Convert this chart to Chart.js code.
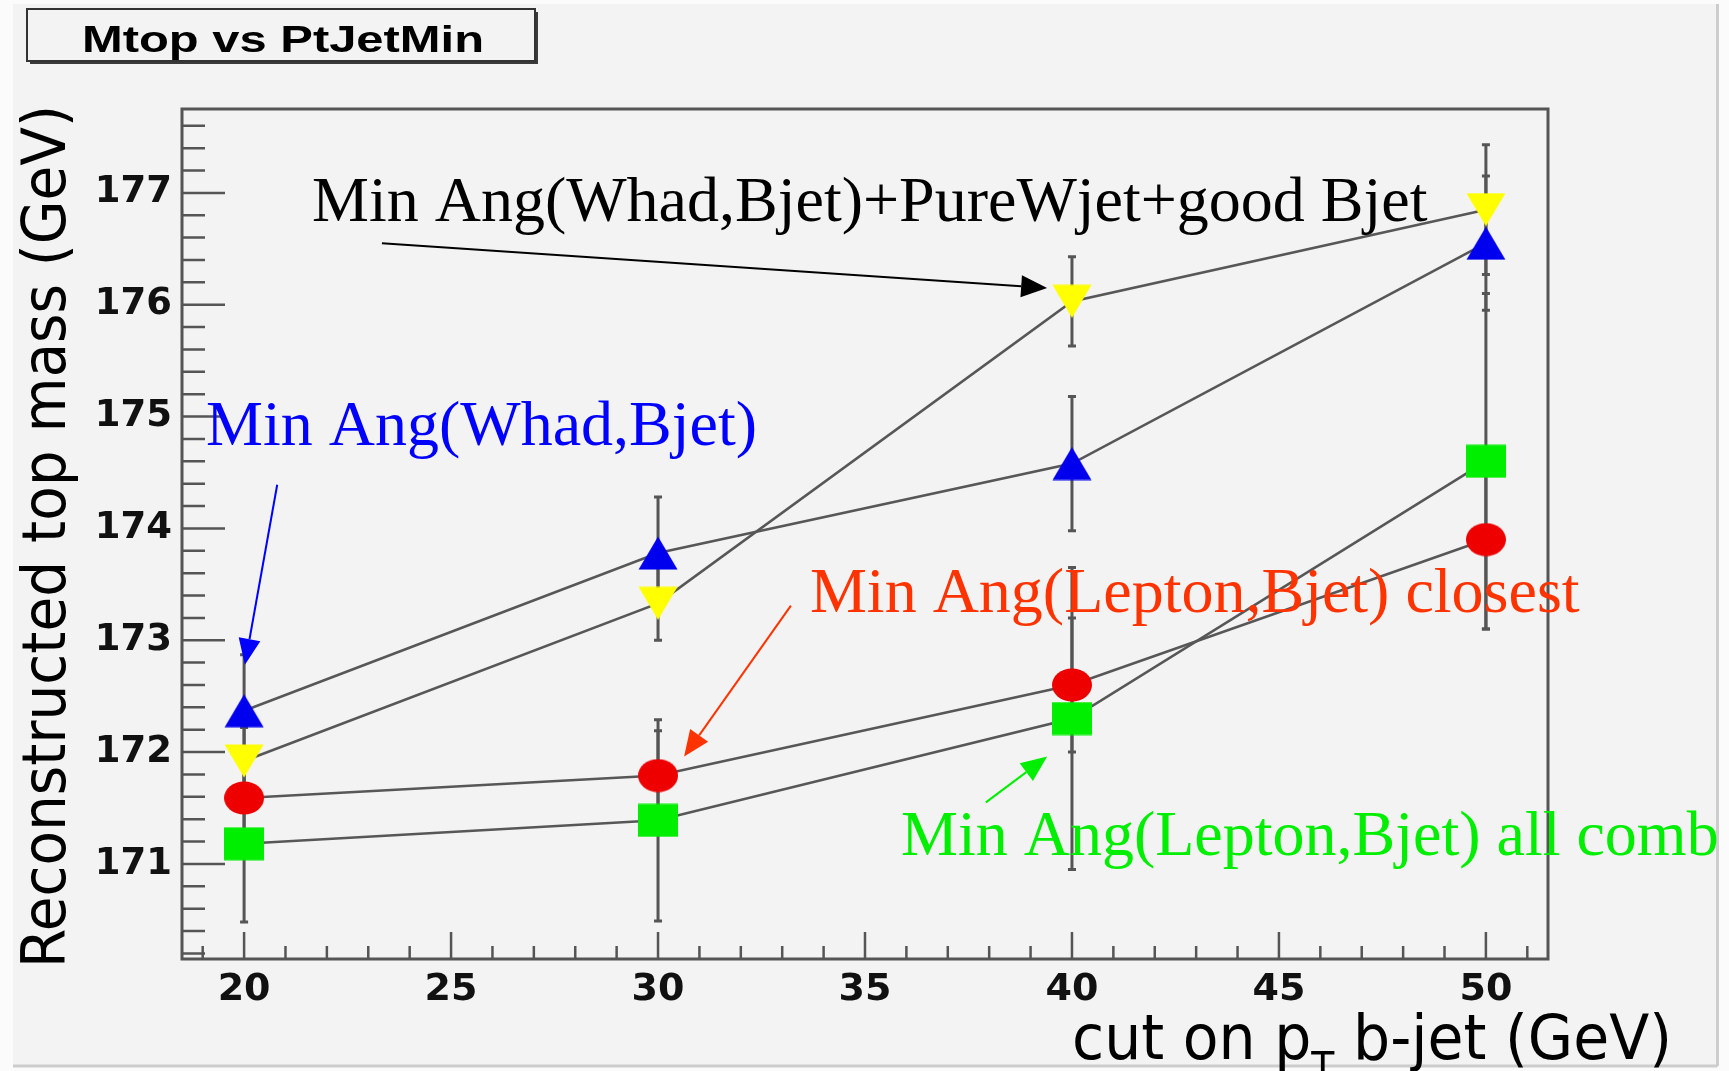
<!DOCTYPE html>
<html>
<head>
<meta charset="utf-8">
<title>Mtop vs PtJetMin</title>
<script src="https://cdn.jsdelivr.net/npm/chart.js"></script>
<style>
  html, body { margin: 0; padding: 0; background: #fbfbfb; overflow: hidden; }
  #graph { width: 1729px; height: 1071px; }
</style>
</head>
<body>
<div id="graph"></div>
<script>
// Coupure sur le pT du b-jet (GeV)
var xCuts = [20, 30, 40, 50];

// Masse du top reconstruite (GeV) et erreurs, par méthode
var whadBjet = [172.37, 173.78, 174.58, 176.55];
var whadBjetErr = [0.5, 0.5, 0.6, 0.6];
var pureWjet = [171.92, 173.33, 176.03, 176.85];
var pureWjetErr = [0.3, 0.33, 0.4, 0.58];
var lepClosest = [171.59, 171.79, 172.6, 173.9];
var lepClosestErr = [0.3, 0.4, 0.6, 0.8];
var lepAllComb = [171.18, 171.39, 172.3, 174.6];
var lepAllCombErr = [0.7, 0.9, 1.35, 1.5];

// Graduations
var xTickValues = [20, 25, 30, 35, 40, 45, 50];
var yTickValues = [171, 172, 173, 174, 175, 176, 177];

// Étiquettes et flèches (positions en unités des axes)
var notes = [
    { text: 'Min Ang(Whad,Bjet)+PureWjet+good Bjet', color: '#000000', x: 21.64, y: 176.75, from: [23.33, 176.55], to: [39.40, 176.15] },
    { text: 'Min Ang(Whad,Bjet)', color: '#0000ff', x: 19.08, y: 174.75, from: [20.80, 174.39], to: [20.02, 172.78] },
    { text: 'Min Ang(Lepton,Bjet) closest', color: '#ff3300', x: 33.67, y: 173.25, from: [33.21, 173.31], to: [30.63, 171.96] },
    { text: 'Min Ang(Lepton,Bjet) all comb', color: '#00ee00', x: 35.87, y: 171.08, from: [37.92, 171.55], to: [39.40, 171.96] }
];

var graphDiv = document.getElementById('graph');
graphDiv.innerHTML = '';
var canvas = document.createElement('canvas');
canvas.id = 'chartCanvas';
canvas.width = 1729;
canvas.height = 1071;
graphDiv.appendChild(canvas);

// Marqueurs façon ROOT (légèrement étirés en largeur)
function makeMarker(shape, color) {
    var c = document.createElement('canvas');
    c.width = 40;
    c.height = 34;
    var g = c.getContext('2d');
    g.fillStyle = color;
    g.beginPath();
    if (shape === 'up') {
        g.moveTo(20, 0.5); g.lineTo(39.5, 33.5); g.lineTo(0.5, 33.5);
    } else if (shape === 'down') {
        g.moveTo(0.5, 0.5); g.lineTo(39.5, 0.5); g.lineTo(20, 33.5);
    } else if (shape === 'ellipse') {
        g.ellipse(20, 17, 20, 16.5, 0, 0, 2 * Math.PI);
    } else {
        g.rect(0, 0.5, 40, 33);
    }
    g.closePath();
    g.fill();
    return c;
}

function serie(label, values, errors, marker) {
    return {
        label: label,
        data: xCuts.map(function (x, i) { return { x: x, y: values[i] }; }),
        errors: errors,
        borderColor: '#575757',
        borderWidth: 2.6,
        pointStyle: marker,
        pointRadius: 20,
        pointHoverRadius: 20,
        fill: false,
        tension: 0
    };
}

// Fond, barres d'erreur, cadre, titres et annotations
var rootStyle = {
    id: 'rootStyle',
    beforeDraw: function (chart) {
        var ctx = chart.ctx;
        ctx.save();
        ctx.fillStyle = '#fbfbfb';
        ctx.fillRect(0, 0, chart.width, chart.height);
        ctx.fillStyle = '#f3f3f3';
        ctx.fillRect(13, 4, 1704, 1061);
        ctx.strokeStyle = '#cdcdcd';
        ctx.lineWidth = 3;
        ctx.beginPath();
        ctx.moveTo(1717.5, 4); ctx.lineTo(1717.5, 1066);
        ctx.moveTo(13, 1066); ctx.lineTo(1717.5, 1066);
        ctx.stroke();
        ctx.restore();
    },
    beforeDatasetsDraw: function (chart) {
        var ctx = chart.ctx;
        var xs = chart.scales.x, ys = chart.scales.y;
        ctx.save();
        ctx.strokeStyle = '#555555';
        ctx.lineWidth = 3;
        chart.data.datasets.forEach(function (ds) {
            ds.data.forEach(function (p, i) {
                var px = xs.getPixelForValue(p.x);
                var top = ys.getPixelForValue(p.y + ds.errors[i]);
                var bot = ys.getPixelForValue(p.y - ds.errors[i]);
                ctx.beginPath();
                ctx.moveTo(px, top); ctx.lineTo(px, bot);
                ctx.moveTo(px - 4, top); ctx.lineTo(px + 4, top);
                ctx.moveTo(px - 4, bot); ctx.lineTo(px + 4, bot);
                ctx.stroke();
            });
        });
        ctx.restore();
    },
    afterDraw: function (chart) {
        var ctx = chart.ctx;
        var a = chart.chartArea;
        var xs = chart.scales.x, ys = chart.scales.y;
        ctx.save();

        // Cadre
        ctx.strokeStyle = '#555555';
        ctx.lineWidth = 3;
        ctx.strokeRect(a.left, a.top, a.right - a.left, a.bottom - a.top);

        // Graduations intérieures
        ctx.lineWidth = 2.5;
        ctx.beginPath();
        for (var k = Math.ceil(ys.min * 5); k <= Math.floor(ys.max * 5); k++) {
            var py = ys.getPixelForValue(k / 5);
            ctx.moveTo(a.left, py);
            ctx.lineTo(a.left + (k % 5 === 0 ? 43 : 23), py);
        }
        for (var j = Math.ceil(xs.min); j <= Math.floor(xs.max); j++) {
            var px = xs.getPixelForValue(j);
            ctx.moveTo(px, a.bottom);
            ctx.lineTo(px, a.bottom - (j % 5 === 0 ? 27 : 13));
        }
        ctx.stroke();

        // Boîte du titre
        ctx.fillStyle = '#3a3a3a';
        ctx.fillRect(30, 12, 508, 52);
        ctx.fillStyle = '#f3f3f3';
        ctx.fillRect(27, 9, 508, 52);
        ctx.strokeStyle = '#333333';
        ctx.lineWidth = 2;
        ctx.strokeRect(27, 9, 508, 52);
        ctx.fillStyle = '#000000';
        ctx.font = 'bold 36px "Liberation Sans", Arial, sans-serif';
        ctx.textBaseline = 'alphabetic';
        ctx.textAlign = 'left';
        var tw = ctx.measureText('Mtop vs PtJetMin').width;
        ctx.save();
        ctx.translate(82, 52);
        ctx.scale(402 / tw, 1);
        ctx.fillText('Mtop vs PtJetMin', 0, 0);
        ctx.restore();

        // Titre de l'axe Y
        ctx.font = '60px "DejaVu Sans", sans-serif';
        var yt = 'Reconstructed top mass (GeV)';
        var yw = ctx.measureText(yt).width;
        ctx.save();
        ctx.translate(65, 968);
        ctx.rotate(-Math.PI / 2);
        ctx.scale(863 / yw, 1);
        ctx.fillText(yt, 0, 0);
        ctx.restore();

        // Titre de l'axe X avec indice T
        var parts = [['cut on p', 62, 0], ['T', 40, 22], [' b-jet (GeV)', 62, 0]];
        var total = 0;
        parts.forEach(function (p) {
            ctx.font = p[1] + 'px "DejaVu Sans", sans-serif';
            p.push(ctx.measureText(p[0]).width);
            total += p[3];
        });
        ctx.save();
        ctx.translate(1072, 1059);
        ctx.scale(600 / total, 1);
        var cx = 0;
        parts.forEach(function (p) {
            ctx.font = p[1] + 'px "DejaVu Sans", sans-serif';
            ctx.fillText(p[0], cx, p[2]);
            cx += p[3];
        });
        ctx.restore();

        // Annotations et flèches
        ctx.font = '64px "Liberation Serif", "Times New Roman", serif';
        notes.forEach(function (n) {
            ctx.fillStyle = n.color;
            ctx.fillText(n.text, xs.getPixelForValue(n.x), ys.getPixelForValue(n.y));
            var x1 = xs.getPixelForValue(n.from[0]), y1 = ys.getPixelForValue(n.from[1]);
            var x2 = xs.getPixelForValue(n.to[0]), y2 = ys.getPixelForValue(n.to[1]);
            var ang = Math.atan2(y2 - y1, x2 - x1);
            var len = 26, half = 11;
            var bx = x2 - len * Math.cos(ang), by = y2 - len * Math.sin(ang);
            ctx.strokeStyle = n.color;
            ctx.lineWidth = 2;
            ctx.beginPath();
            ctx.moveTo(x1, y1);
            ctx.lineTo(bx, by);
            ctx.stroke();
            ctx.beginPath();
            ctx.moveTo(x2, y2);
            ctx.lineTo(bx + half * Math.sin(ang), by - half * Math.cos(ang));
            ctx.lineTo(bx - half * Math.sin(ang), by + half * Math.cos(ang));
            ctx.closePath();
            ctx.fill();
        });
        ctx.restore();
    }
};

var chart = new Chart(canvas, {
    type: 'line',
    data: {
        datasets: [
            serie('Min Ang(Whad,Bjet)', whadBjet, whadBjetErr, makeMarker('up', '#0000ee')),
            serie('Min Ang(Whad,Bjet)+PureWjet+good Bjet', pureWjet, pureWjetErr, makeMarker('down', '#ffff00')),
            serie('Min Ang(Lepton,Bjet) closest', lepClosest, lepClosestErr, makeMarker('ellipse', '#ee0000')),
            serie('Min Ang(Lepton,Bjet) all comb', lepAllComb, lepAllCombErr, makeMarker('square', '#00ee00'))
        ]
    },
    options: {
        responsive: false,
        animation: false,
        events: [],
        layout: { padding: { left: 0, top: 109, right: 181, bottom: 0 } },
        plugins: {
            legend: { display: false },
            tooltip: { enabled: false }
        },
        scales: {
            x: {
                type: 'linear',
                min: 18.5,
                max: 51.5,
                grid: { display: false, drawTicks: false },
                border: { display: false },
                afterBuildTicks: function (s) { s.ticks = xTickValues.map(function (v) { return { value: v }; }); },
                afterFit: function (s) { s.height = 112; },
                ticks: {
                    padding: 8,
                    maxRotation: 0,
                    autoSkip: false,
                    color: '#111111',
                    font: { family: '"DejaVu Sans", sans-serif', weight: 'bold', size: 38 }
                }
            },
            y: {
                type: 'linear',
                min: 170.15,
                max: 177.75,
                grid: { display: false, drawTicks: false },
                border: { display: false },
                afterBuildTicks: function (s) { s.ticks = yTickValues.map(function (v) { return { value: v }; }); },
                afterFit: function (s) { s.width = 182; },
                ticks: {
                    padding: 10,
                    color: '#111111',
                    font: { family: '"DejaVu Sans", sans-serif', weight: 'bold', size: 37 }
                }
            }
        }
    },
    plugins: [rootStyle]
});
</script>
</body>
</html>
